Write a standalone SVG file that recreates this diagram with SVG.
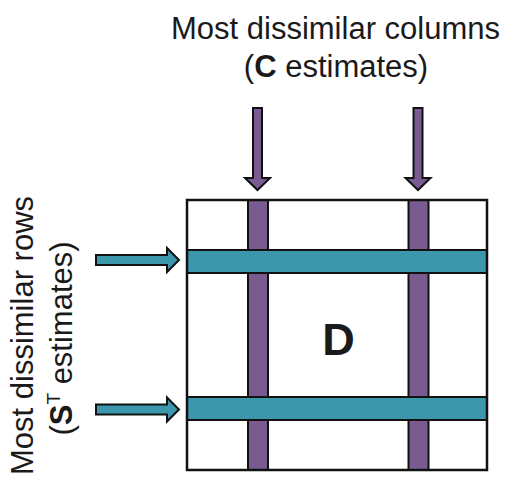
<svg xmlns="http://www.w3.org/2000/svg" width="510" height="479" viewBox="0 0 510 479">
  <style>
    .lbl { font-family: "Liberation Sans", Arial, sans-serif; font-size: 31px; fill: #1a1a1a; }
    .b { font-weight: bold; }
    .col { fill: #795b91; stroke: #111; stroke-width: 2; }
    .row { fill: #3a97ac; stroke: #111; stroke-width: 2; }
    .frame { fill: none; stroke: #111; stroke-width: 2.5; }
    .arr-col { fill: #795b91; stroke: #111; stroke-width: 2; stroke-linejoin: miter; }
    .arr-row { fill: #3a97ac; stroke: #111; stroke-width: 2; stroke-linejoin: miter; }
  </style>
  <rect width="510" height="479" fill="#ffffff"/>

  <!-- column label -->
  <g id="label-columns">
    <text class="lbl" x="335.5" y="39" text-anchor="middle">Most dissimilar columns</text>
    <text class="lbl" x="336" y="77" text-anchor="middle">(<tspan class="b">C</tspan> estimates)</text>
  </g>

  <!-- row label, rotated -->
  <g id="label-rows">
    <text class="lbl" transform="translate(33,335.5) rotate(-90)" text-anchor="middle">Most dissimilar rows</text>
    <text class="lbl" transform="translate(72,338.5) rotate(-90)" text-anchor="middle">(<tspan class="b">S</tspan><tspan font-size="19" dy="-12">T</tspan><tspan dy="12"> estimates)</tspan></text>
  </g>

  <!-- data matrix D with selected columns and rows -->
  <g id="matrix-D">
    <rect x="187" y="200" width="300" height="270" fill="#ffffff"/>
    <rect class="col" x="248" y="200" width="20" height="270"/>
    <rect class="col" x="408.5" y="200" width="20" height="270"/>
    <rect class="row" x="187" y="250" width="300" height="23"/>
    <rect class="row" x="187" y="397" width="300" height="23"/>
    <rect class="frame" x="187" y="200" width="300" height="270"/>
    <text class="lbl b" x="338.5" y="355" text-anchor="middle" style="font-size:45px">D</text>
  </g>

  <!-- arrows -->
  <g id="connectors">
    <polygon class="arr-col" points="253,108 262,108 262,178 270,178 257.5,190 245,178 253,178"/>
    <polygon class="arr-col" points="413.5,108 422.5,108 422.5,178 430.5,178 418,190 405.5,178 413.5,178"/>
    <polygon class="arr-row" points="96,255 167,255 167,248 179,260 167,272 167,265 96,265"/>
    <polygon class="arr-row" points="96,404.5 167,404.5 167,397.5 179,409.5 167,421.5 167,414.5 96,414.5"/>
  </g>
</svg>
